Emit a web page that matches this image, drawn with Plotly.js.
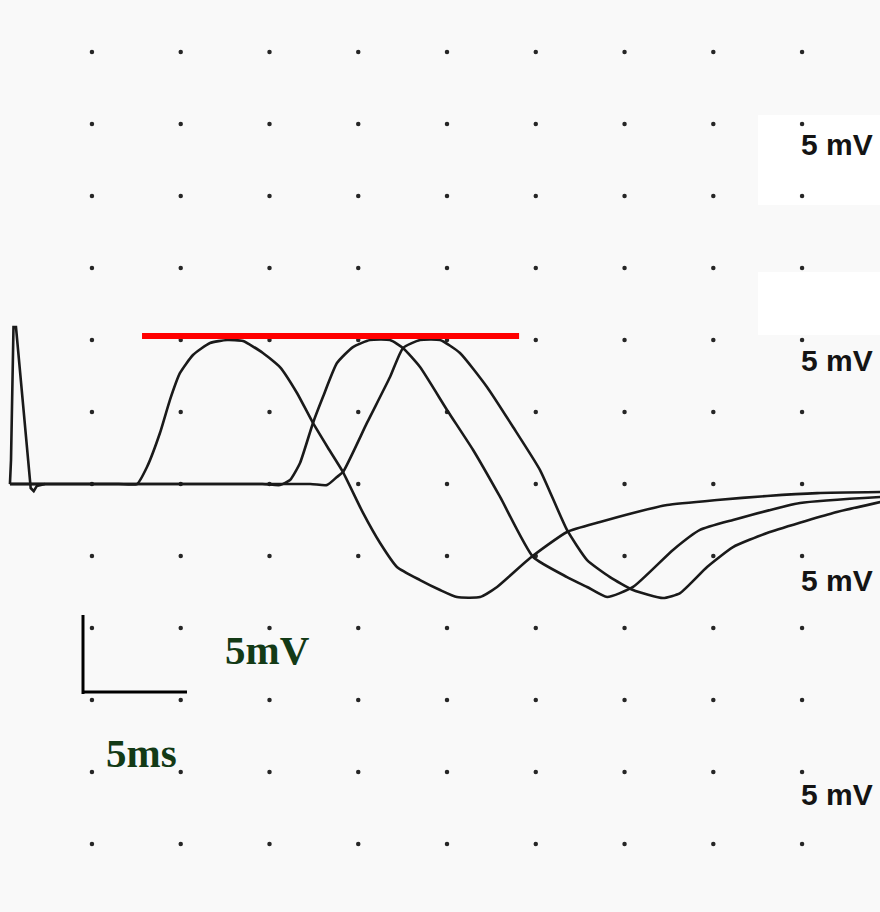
<!DOCTYPE html>
<html>
<head>
<meta charset="utf-8">
<script src="https://cdn.plot.ly/plotly-3.0.1.min.js"></script>
<style>html,body{margin:0;padding:0;background:#f9f9f9;}#chart{width:880px;height:912px;}</style>
</head>
<body>
<div id="chart"></div>
<script>
// ---- data (time in ms, amplitude in mV) ----
const gridX = [0, 5, 10, 15, 20, 25, 30, 35, 40];
const gridY = [-30, -25, -20, -15, -10, -5, 0, 5, 10, 15, 20, 25, 30];

// stimulus artifact (shared by all sweeps)
const artifactX = [-4.62, -4.56, -4.42, -4.28, -3.45, -3.28, -3.11, -2.65];
const artifactY = [0, 1.67, 10.90, 10.90, -0.28, -0.49, -0.14, 0];

// sweep A (earliest response)
const sweepAx = [-4.62, 1.5, 2.54, 3.10, 3.83, 4.39, 4.96, 5.69, 6.65, 7.61, 8.51, 9.63, 10.59, 11.55, 12.45,
  13.30, 14.14, 15.27, 16.23, 17.18, 18.48, 19.61, 20.56, 21.86, 22.82, 24.68, 26.76, 28.62, 30.48, 32.40,
  35.21, 38.03, 40.85, 44.40];
const sweepAy = [0, 0, 0, 1.18, 3.54, 5.83, 7.71, 8.96, 9.79, 10.0, 9.93, 9.10, 8.12, 6.32, 4.24,
  2.50, 0.83, -2.01, -4.10, -5.76, -6.67, -7.36, -7.85, -7.85, -7.15, -5.14, -3.33, -2.64, -2.01, -1.46,
  -1.11, -0.83, -0.63, -0.56];

// sweep B
const sweepBx = [-4.62, 9.6, 10.59, 11.16, 11.72, 12.45, 13.01, 13.80, 14.70, 15.66, 16.79, 17.52, 18.48,
  20.00, 21.47, 22.99, 24.85, 26.76, 27.89, 29.02, 30.48, 32.73, 34.25, 36.11, 39.89, 44.40];
const sweepBy = [0, 0, -0.07, 0.28, 1.46, 4.24, 6.04, 8.40, 9.51, 10.0, 10.0, 9.44, 8.12,
  5.14, 2.36, -0.90, -5.07, -6.46, -7.15, -7.85, -7.15, -4.58, -3.19, -2.50, -1.32, -0.90];

// sweep C (latest response)
const sweepCx = [-4.62, 12.3, 13.24, 13.80, 14.14, 15.49, 16.79, 17.52, 18.48, 19.61, 20.73, 22.25, 23.72,
  25.24, 26.76, 27.89, 29.18, 30.48, 32.17, 33.13, 34.65, 36.11, 38.03, 41.75, 44.40];
const sweepCy = [0, 0, -0.07, 0.49, 0.83, 4.24, 7.43, 9.44, 10.0, 10.0, 9.10, 6.74, 3.96,
  0.97, -3.19, -5.28, -6.46, -7.36, -7.92, -7.57, -5.76, -4.38, -3.40, -2.01, -1.25];

// peak reference line
const peakLineX = [2.82, 24.06];
const peakLineY = [10.28, 10.28];

// labels
const gainLabels = ['5 mV', '5 mV', '5 mV', '5 mV'];
const scaleV = '5mV';
const scaleT = '5ms';

// ---- build ----
const dotX = [], dotY = [];
gridY.forEach(y => gridX.forEach(x => { dotX.push(x); dotY.push(y); }));

const lineStyle = {color: '#1a1a1a', width: 2.6};
const traces = [
  {x: dotX, y: dotY, mode: 'markers', type: 'scatter', marker: {size: 4.5, color: '#262626'}, hoverinfo: 'skip', cliponaxis: false},
  {x: artifactX, y: artifactY, mode: 'lines', type: 'scatter', line: lineStyle},
  {x: sweepAx, y: sweepAy, mode: 'lines', type: 'scatter', line: Object.assign({shape: 'spline', smoothing: 0.5}, lineStyle)},
  {x: sweepBx, y: sweepBy, mode: 'lines', type: 'scatter', line: Object.assign({shape: 'spline', smoothing: 0.5}, lineStyle)},
  {x: sweepCx, y: sweepCy, mode: 'lines', type: 'scatter', line: Object.assign({shape: 'spline', smoothing: 0.5}, lineStyle)},
  {x: peakLineX, y: peakLineY, mode: 'lines', type: 'scatter', line: {color: '#ff0000', width: 6}}
];

const W = 880, H = 912;
const px = v => v / W, py = v => 1 - v / H;
const labelYs = [145, 360, 580, 794];

const annotations = gainLabels.map((t, i) => ({
  text: '<b>' + t + '</b>', xref: 'paper', yref: 'paper', x: px(799), y: py(labelYs[i]),
  xanchor: 'left', yanchor: 'middle', showarrow: false,
  font: {family: 'Liberation Sans, Arial, sans-serif', size: 30, color: '#141414'}
}));
annotations.push({text: '<b>' + scaleV + '</b>', xref: 'paper', yref: 'paper', x: px(267), y: py(650),
  xanchor: 'center', yanchor: 'middle', showarrow: false,
  font: {family: 'Liberation Serif, Times New Roman, serif', size: 41, color: '#133a16'}});
annotations.push({text: '<b>' + scaleT + '</b>', xref: 'paper', yref: 'paper', x: px(141), y: py(753),
  xanchor: 'center', yanchor: 'middle', showarrow: false,
  font: {family: 'Liberation Serif, Times New Roman, serif', size: 41, color: '#133a16'}});

const shapes = [
  {type: 'rect', xref: 'paper', yref: 'paper', x0: px(758), x1: 1, y0: py(205), y1: py(115), fillcolor: '#ffffff', line: {width: 0}, layer: 'below'},
  {type: 'rect', xref: 'paper', yref: 'paper', x0: px(758), x1: 1, y0: py(335), y1: py(272), fillcolor: '#ffffff', line: {width: 0}, layer: 'below'},
  {type: 'line', xref: 'paper', yref: 'paper', x0: px(83), x1: px(83), y0: py(615), y1: py(694), line: {color: '#000', width: 3}},
  {type: 'line', xref: 'paper', yref: 'paper', x0: px(82), x1: px(187), y0: py(692), y1: py(692), line: {color: '#000', width: 3}}
];

const layout = {
  width: W, height: H,
  margin: {l: 0, r: 0, t: 0, b: 0},
  paper_bgcolor: '#f9f9f9', plot_bgcolor: 'rgba(0,0,0,0)',
  showlegend: false,
  xaxis: {range: [-5.18, 44.39], visible: false, fixedrange: true},
  yaxis: {range: [-29.72, 33.61], visible: false, fixedrange: true},
  annotations: annotations,
  shapes: shapes
};

Plotly.newPlot('chart', traces, layout, {displayModeBar: false, staticPlot: true});
</script>
</body>
</html>
